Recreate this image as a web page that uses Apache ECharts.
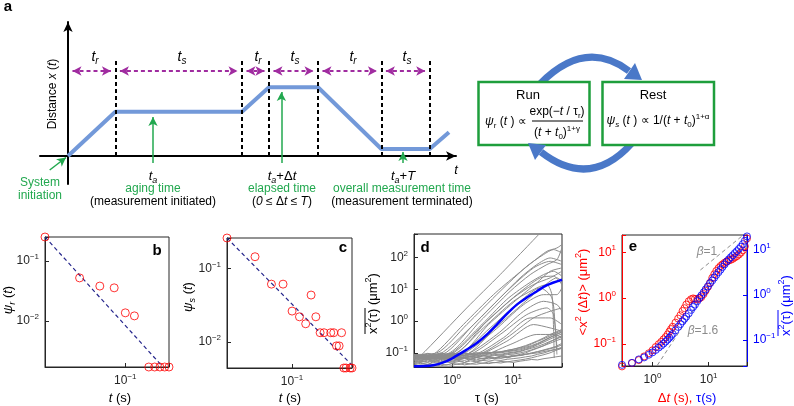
<!DOCTYPE html>
<html><head><meta charset="utf-8">
<script src="https://cdn.jsdelivr.net/npm/echarts@6/dist/echarts.min.js"></script>
<style>html,body{margin:0;padding:0;background:#fff}#c{width:794px;height:406px}</style>
</head><body><div id="c"></div>
<script>
// ================= DATA =================
// Panel a: schematic trajectory (arbitrary time / distance units)
const schemTime = [0, 4.74, 17.4, 20.1, 25.0, 31.34, 36.17, 38.1];
const schemDist = [0, 4.43, 4.43, 6.87, 6.87, 0.7, 0.7, 2.37];
const phaseBounds = [0, 4.74, 17.4, 20.1, 25.0, 31.34, 36.17];
const phaseNames = ['r', 's', 'r', 's', 'r', 's'];
const markerTimes = [8.5, 21.34, 33.5];
const markerTops = [3.9, 6.4, 0.4];

// Panel b: run-time distribution
const bTimes = [0.02, 0.04, 0.06, 0.08, 0.1, 0.12, 0.16, 0.18, 0.2, 0.22, 0.24];
const bPsi = [0.25, 0.052, 0.038, 0.0355, 0.0136, 0.0121, 0.0017, 0.0017, 0.0017, 0.0017, 0.0017];
const bFitTimes = [0.02, 0.207];
const bFitPsi = [0.25, 0.0018];

// Panel c: rest-time distribution
const cTimes = [0.02, 0.04, 0.06, 0.08, 0.1, 0.12, 0.14, 0.16, 0.18, 0.2, 0.22, 0.26, 0.28, 0.3, 0.32, 0.34, 0.36, 0.38, 0.42, 0.44];
const cPsi = [0.259, 0.144, 0.061, 0.061, 0.0262, 0.0219, 0.0176, 0.0433, 0.0219, 0.0133, 0.0133, 0.0133, 0.0133, 0.0088, 0.0088, 0.0133, 0.0044, 0.0044, 0.0044, 0.0044];
const cFitTimes = [0.02, 0.44];
const cFitPsi = [0.259, 0.0048];

// Panel d: individual time-averaged MSD curves ([tau, msd] pairs)
const dRisingTracks = [
  [[0.238,0.062],[0.299,0.078],[1.74,2.6],[6.12,29],[27.7,593]],
  [[0.238,0.089],[0.561,0.1],[1.74,0.78],[6.12,8.7],[16.7,53],[31.4,124],[45.8,178],[62.8,140]],
  [[0.238,0.078],[0.721,0.093],[2.24,0.78],[7.87,8.7],[21.5,47],[40.4,76],[62.8,60]],
  [[0.238,0.084],[0.818,0.093],[2.88,0.99],[8.93,8.7],[19.0,29],[35.6,60],[52,86],[62.8,200]],
  [[0.238,0.073],[0.927,0.089],[3.26,0.78],[10.1,5.4],[21.5,14.1],[40.4,23],[62.8,37]],
  [[0.238,0.080],[1.05,0.089],[3.70,0.99],[11.5,6.8],[27.7,23],[45.8,26],[62.8,14.1]],
  [[0.238,0.069],[1.19,0.084],[4.20,0.61],[13.0,4.2],[27.7,11.1],[43.0,5.4],[48.8,0.61],[52,0.089]],
  [[0.238,0.077],[1.35,0.089],[4.76,0.48],[14.8,3.3],[31.4,6.8],[52,6.8],[62.8,11.1]],
  [[0.238,0.066],[1.53,0.082],[5.40,0.38],[14.8,2.04],[31.4,4.2],[52,3.3],[62.8,2.04]],
  [[0.238,0.073],[1.74,0.084],[6.12,0.38],[16.7,1.60],[35.6,2.6],[45.8,1.6],[52,0.144]],
  [[0.238,0.063],[1.97,0.077],[6.94,0.30],[19.0,1.26],[40.4,1.26],[62.8,0.78]],
  [[0.238,0.069],[2.24,0.078],[7.87,0.233],[21.5,0.78],[40.4,0.61],[62.8,0.48]],
  [[0.238,0.075],[0.636,0.093],[1.97,0.61],[6.12,5.4],[13.0,23],[24.4,60],[40.4,97],[62.8,76]],
  [[0.238,0.065],[2.54,0.073],[8.93,0.183],[24.4,0.38],[45.8,0.38],[62.8,0.30]],
  [[0.238,0.071],[1.05,0.089],[3.26,0.61],[10.1,4.2],[24.4,11.1],[35.6,14.1],[43.0,6.8],[45.8,0.61],[47.0,0.069]],
  [[0.238,0.068],[0.494,0.089],[1.53,0.78],[4.76,6.8],[11.5,29],[21.5,76],[35.6,157],[52,200],[62.8,255]],
  [[0.238,0.078],[2.54,0.089],[7.87,0.30],[21.5,1.26],[40.4,2.04],[62.8,2.6]],
  [[0.238,0.08],[1.27,0.089],[3.95,0.78],[11.5,4.8],[24.4,16],[40.4,37],[62.8,47]],
  [[0.238,0.07],[1.63,0.086],[5.1,0.61],[14.8,3.7],[31.4,12.5],[52,23],[62.8,18]],
  [[0.238,0.074],[0.87,0.089],[2.7,0.61],[7.87,4.8],[16.7,14.1],[31.4,29],[45.8,37],[62.8,26]]
];
const dNoiseTimes = [0.24,0.3,0.4,0.5,0.65,0.8,1,1.3,1.6,2,2.5,3.2,4,5,6.3,8,10,13,16,20,25,32,40,50,63];
const dNoiseTracks = [
  [0.045,0.05,0.042,0.055,0.048,0.06,0.052,0.058,0.05,0.062,0.055,0.06,0.07,0.065,0.075,0.07,0.08,0.09,0.1,0.12,0.14,0.17,0.22,0.28,0.35],
  [0.07,0.065,0.08,0.072,0.085,0.078,0.09,0.082,0.095,0.088,0.092,0.1,0.095,0.11,0.105,0.12,0.13,0.15,0.17,0.2,0.24,0.3,0.38,0.45,0.55],
  [0.038,0.042,0.04,0.044,0.039,0.043,0.041,0.046,0.042,0.045,0.044,0.048,0.046,0.05,0.048,0.053,0.05,0.055,0.058,0.062,0.06,0.066,0.07,0.075,0.08],
  [0.06,0.055,0.065,0.058,0.07,0.062,0.075,0.068,0.072,0.08,0.074,0.085,0.078,0.09,0.085,0.095,0.1,0.11,0.125,0.14,0.16,0.19,0.23,0.27,0.32],
  [0.05,0.058,0.052,0.062,0.056,0.066,0.059,0.064,0.07,0.063,0.072,0.067,0.075,0.07,0.08,0.076,0.085,0.082,0.09,0.1,0.11,0.125,0.14,0.16,0.2],
  [0.085,0.078,0.092,0.084,0.096,0.088,0.1,0.093,0.098,0.09,0.1,0.095,0.105,0.1,0.11,0.12,0.13,0.145,0.16,0.19,0.23,0.28,0.34,0.42,0.5],
  [0.042,0.047,0.044,0.05,0.046,0.052,0.048,0.054,0.05,0.056,0.052,0.058,0.055,0.06,0.058,0.063,0.066,0.07,0.075,0.08,0.09,0.1,0.115,0.13,0.15],
  [0.065,0.07,0.062,0.075,0.068,0.08,0.072,0.086,0.076,0.09,0.08,0.088,0.085,0.095,0.09,0.1,0.105,0.115,0.13,0.15,0.18,0.22,0.27,0.33,0.4],
  [0.055,0.05,0.06,0.053,0.063,0.057,0.067,0.06,0.068,0.062,0.07,0.065,0.072,0.068,0.075,0.072,0.078,0.085,0.09,0.095,0.1,0.11,0.12,0.13,0.14],
  [0.075,0.082,0.07,0.088,0.076,0.09,0.08,0.094,0.085,0.097,0.09,0.1,0.093,0.105,0.1,0.11,0.115,0.125,0.14,0.16,0.19,0.24,0.3,0.38,0.46],
  [0.04,0.037,0.043,0.039,0.045,0.041,0.047,0.043,0.048,0.045,0.05,0.047,0.052,0.049,0.054,0.052,0.056,0.06,0.064,0.07,0.078,0.088,0.1,0.12,0.14],
  [0.09,0.084,0.097,0.088,0.1,0.092,0.099,0.09,0.1,0.094,0.1,0.097,0.103,0.1,0.108,0.115,0.12,0.135,0.15,0.17,0.2,0.25,0.31,0.37,0.45],
  [0.048,0.054,0.05,0.057,0.052,0.059,0.055,0.062,0.058,0.066,0.06,0.068,0.064,0.07,0.067,0.074,0.078,0.083,0.09,0.098,0.108,0.12,0.135,0.15,0.18],
  [0.058,0.064,0.06,0.068,0.063,0.071,0.066,0.074,0.069,0.077,0.072,0.08,0.076,0.083,0.08,0.088,0.092,0.1,0.11,0.125,0.145,0.17,0.2,0.24,0.28]
];
const dMeanTimes = [0.238, 0.49, 0.82, 1.19, 1.74, 2.54, 3.7, 5.4, 7.9, 11.5, 17.0, 24.5, 35.7, 63];
const dMeanValues = [0.038, 0.041, 0.055, 0.082, 0.127, 0.206, 0.376, 0.776, 1.68, 3.3, 5.6, 8.7, 13.5, 20];

// Panel e: ensemble-averaged (red) and time-averaged (blue) MSD
const eTimes = [0.286,0.43,0.57,0.71,0.86,1.0,1.14,1.29,1.43,1.57,1.71,1.86,2.0,2.14,2.29,2.57,2.86,3.14,3.43,3.71,4.0,4.43,4.86,5.29,5.71,6.29,6.86,7.43,8.14,8.86,9.71,10.6,11.6,12.6,13.7,15.0,16.3,17.7,19.3,21.0,22.9,24.9,27.0,29.3,31.9,34.6,37.6,40.7,44.3,48.3];
const eEnsembleMSD = [0.032,0.038,0.044,0.053,0.062,0.072,0.085,0.098,0.11,0.125,0.14,0.16,0.185,0.21,0.235,0.29,0.355,0.42,0.52,0.6,0.72,0.85,0.94,0.98,0.96,0.93,0.98,1.05,1.22,1.45,1.75,2.15,2.75,3.3,3.9,4.5,5.0,5.45,5.9,6.3,6.6,6.85,7.2,7.7,8.2,8.9,9.8,11.0,13.5,20.0];
const eTimeAvgMSD = [0.028,0.031,0.037,0.041,0.047,0.053,0.060,0.068,0.075,0.083,0.092,0.102,0.112,0.123,0.136,0.164,0.195,0.226,0.26,0.295,0.33,0.39,0.465,0.54,0.61,0.73,0.86,0.98,1.14,1.33,1.55,1.82,2.1,2.42,2.78,3.2,3.65,4.2,4.8,5.5,6.2,6.9,7.6,8.5,9.4,10.5,11.8,13.5,16.0,20.0];
const eBeta1Times = [7.13, 39.4];
const eBeta1Values = [4.09, 22.6];
const eBeta16Times = [1.22, 12];
const eBeta16Values = [0.034, 2.47];

// ================= CHART =================
const FONT = '"Liberation Sans", Arial, Helvetica, sans-serif';
const GREEN = '#22a84f', PURPLE = '#a02ca0', SCHEM_BLUE = '#7399d9', ARC_BLUE = '#4a78c8';

function R(size, color) {
  const base = {fontSize: size, lineHeight: size + 4, color: color, fill: color, fontFamily: FONT};
  const small = Math.round(size * 0.68);
  return {
    n: Object.assign({}, base),
    i: Object.assign({}, base, {fontStyle: 'italic'}),
    sub: {fontSize: small, lineHeight: Math.round(size * 0.7), color: color, fill: color, fontFamily: FONT, verticalAlign: 'bottom'},
    subi: {fontSize: small, lineHeight: Math.round(size * 0.7), color: color, fill: color, fontFamily: FONT, verticalAlign: 'bottom', fontStyle: 'italic'},
    sup: {fontSize: small, lineHeight: Math.round(size * 0.7), color: color, fill: color, fontFamily: FONT, verticalAlign: 'top'}
  };
}
function logLabel(v) {
  const l = Math.log10(v), e = Math.round(l);
  if (Math.abs(l - e) > 1e-4) return '';
  return '{b|10}{s|' + (e < 0 ? '\u2212' + (-e) : String(e)) + '}';
}
function logRich(color) {
  return {b: {fontSize: 12, lineHeight: 16, color: color, fontFamily: FONT},
          s: {fontSize: 8, lineHeight: 9, verticalAlign: 'top', color: color, fontFamily: FONT}};
}
function logAx(gi, min, max, color, extra) {
  return Object.assign({
    type: 'log', logBase: 10, gridIndex: gi, min: min, max: max, z: 3,
    axisLine: {show: true, onZero: false, lineStyle: {color: color, width: 1}},
    axisTick: {show: true, inside: true, length: 4, lineStyle: {color: color, width: 1}},
    minorTick: {show: false},
    axisLabel: {formatter: logLabel, margin: 6, rich: logRich(color), color: color},
    splitLine: {show: false}
  }, extra || {});
}
const border = {show: true, borderColor: '#262626', borderWidth: 1, backgroundColor: 'transparent', outerBoundsMode: 'none', containLabel: false};
const grids = [
  {left: 40, top: 22, width: 416, height: 162, show: false, outerBoundsMode: 'none', containLabel: false},
  Object.assign({left: 45, top: 237, width: 124, height: 130}, border),
  Object.assign({left: 227, top: 238, width: 125, height: 130}, border),
  Object.assign({left: 414, top: 234, width: 148, height: 133}, border),
  Object.assign({left: 622, top: 235, width: 125, height: 131}, border)
];
const schemAxisCommon = {
  axisLine: {show: true, onZero: true, symbol: ['none', 'arrow'], symbolSize: [7, 10], lineStyle: {color: '#000', width: 2}},
  axisTick: {show: false}, axisLabel: {show: false}, splitLine: {show: false}
};
const xAxes = [
  Object.assign({type: 'value', gridIndex: 0, min: -2.8, max: 38.8}, schemAxisCommon),
  logAx(1, 0.02, 0.24, '#262626'),
  logAx(2, 0.02, 0.44, '#262626'),
  logAx(3, 0.238, 63, '#262626'),
  logAx(4, 0.286, 48.3, '#262626')
];
const yAxes = [
  Object.assign({type: 'value', gridIndex: 0, min: -2.8, max: 13.4}, schemAxisCommon),
  logAx(1, 0.0017, 0.25, '#262626'),
  logAx(2, 0.0044, 0.259, '#262626'),
  logAx(3, 0.036, 550, '#262626'),
  logAx(4, 0.0327, 23.8, '#ff0000', {position: 'left'}),
  logAx(4, 0.0264, 21.5, '#0000ff', {position: 'right'})
];

const series = [];
// ---- panel a ----
series.push({type: 'line', xAxisIndex: 0, yAxisIndex: 0, data: schemTime.map((t, i) => [t, schemDist[i]]),
  symbol: 'none', lineStyle: {color: SCHEM_BLUE, width: 4}, z: 3, silent: true});
series.push({type: 'line', xAxisIndex: 0, yAxisIndex: 0, data: [], symbol: 'none', silent: true,
  markLine: {silent: true, symbol: 'none', label: {show: false}, animation: false,
    lineStyle: {color: '#000', width: 2, type: [4, 3]},
    data: phaseBounds.slice(1).map(b => [{coord: [b, 0]}, {coord: [b, 9.6]}])}});
series.push({type: 'line', xAxisIndex: 0, yAxisIndex: 0, data: [], symbol: 'none', silent: true,
  markLine: {silent: true, symbol: ['arrow', 'arrow'], symbolSize: [7, 9], label: {show: false}, animation: false,
    lineStyle: {color: PURPLE, width: 2, type: [4, 3]}, itemStyle: {color: PURPLE},
    data: phaseNames.map((p, i) => [{coord: [phaseBounds[i] + 0.45, 8.5]}, {coord: [phaseBounds[i + 1] - 0.45, 8.5]}])}});
series.push({type: 'line', xAxisIndex: 0, yAxisIndex: 0, data: [], symbol: 'none', silent: true,
  markLine: {silent: true, symbol: ['none', 'arrow'], symbolSize: [7, 9], label: {show: false}, animation: false,
    lineStyle: {color: GREEN, width: 1.5, type: 'solid'}, itemStyle: {color: GREEN},
    data: markerTimes.map((t, i) => [{coord: [t, -0.7]}, {coord: [t, markerTops[i]]}])
      .concat([[{coord: [-1.83, -1.4]}, {coord: [-0.2, -0.15]}]])}});

// ---- panel b ----
series.push({type: 'line', xAxisIndex: 1, yAxisIndex: 1, data: bFitTimes.map((t, i) => [t, bFitPsi[i]]),
  symbol: 'none', lineStyle: {color: '#26268c', width: 1.2, type: [4, 3]}, silent: true});
series.push({type: 'scatter', xAxisIndex: 1, yAxisIndex: 1, data: bTimes.map((t, i) => [t, bPsi[i]]), clip: false,
  symbol: 'circle', symbolSize: 8, itemStyle: {color: 'rgba(0,0,0,0)', borderColor: '#ff0000', borderWidth: 1}, z: 4, silent: true});
// ---- panel c ----
series.push({type: 'line', xAxisIndex: 2, yAxisIndex: 2, data: cFitTimes.map((t, i) => [t, cFitPsi[i]]),
  symbol: 'none', lineStyle: {color: '#26268c', width: 1.2, type: [4, 3]}, silent: true});
series.push({type: 'scatter', xAxisIndex: 2, yAxisIndex: 2, data: cTimes.map((t, i) => [t, cPsi[i]]), clip: false,
  symbol: 'circle', symbolSize: 8, itemStyle: {color: 'rgba(0,0,0,0)', borderColor: '#ff0000', borderWidth: 1}, z: 4, silent: true});
// ---- panel d ----
dNoiseTracks.forEach(vals => series.push({type: 'line', xAxisIndex: 3, yAxisIndex: 3,
  data: dNoiseTimes.map((t, i) => [t, vals[i]]), symbol: 'none', silent: true,
  lineStyle: {color: '#8c8c8c', width: 1}}));
dRisingTracks.forEach(tr => series.push({type: 'line', xAxisIndex: 3, yAxisIndex: 3, data: tr, symbol: 'none',
  smooth: 0.25, silent: true, lineStyle: {color: '#8c8c8c', width: 1}}));
series.push({type: 'line', xAxisIndex: 3, yAxisIndex: 3, data: dMeanTimes.map((t, i) => [t, dMeanValues[i]]),
  symbol: 'none', smooth: 0.3, silent: true, z: 5, lineStyle: {color: '#0000ff', width: 2.5}});
// ---- panel e ----
series.push({type: 'line', xAxisIndex: 4, yAxisIndex: 4, data: eBeta1Times.map((t, i) => [t, eBeta1Values[i]]),
  symbol: 'none', silent: true, lineStyle: {color: '#8c8c8c', width: 1, type: [4, 3]}});
series.push({type: 'line', xAxisIndex: 4, yAxisIndex: 4, data: eBeta16Times.map((t, i) => [t, eBeta16Values[i]]),
  symbol: 'none', silent: true, lineStyle: {color: '#8c8c8c', width: 1, type: [4, 3]}});
series.push({type: 'scatter', xAxisIndex: 4, yAxisIndex: 4, data: eTimes.map((t, i) => [t, eEnsembleMSD[i]]), clip: false,
  symbol: 'circle', symbolSize: 7, itemStyle: {color: 'rgba(0,0,0,0)', borderColor: '#ff0000', borderWidth: 1}, z: 4, silent: true});
series.push({type: 'scatter', xAxisIndex: 4, yAxisIndex: 5, data: eTimes.map((t, i) => [t, eTimeAvgMSD[i]]), clip: false,
  symbol: 'circle', symbolSize: 7, itemStyle: {color: 'rgba(0,0,0,0)', borderColor: '#0000ff', borderWidth: 1}, z: 5, silent: true});

// ---- text & decorations ----
function T(x, y, text, size, color, extra) {
  return Object.assign({type: 'text', x: x, y: y, silent: true, z: 50,
    style: {text: text, align: 'center', verticalAlign: 'middle', fontSize: size, fontFamily: FONT, fill: color, rich: R(size, color)}}, extra || {});
}
const g = [];
g.push(T(8, 7, 'a', 15, '#000', {style: {text: 'a', align: 'center', verticalAlign: 'middle', font: 'bold 15px ' + FONT, fill: '#000'}}));
g.push(T(53, 94, '{n|Distance }{i|x}{n| (}{i|t}{n|)}', 12, '#000', {rotation: Math.PI / 2}));
g.push(T(456, 170, '{i|t}', 13, '#000'));
const phaseLabelX = [95, 182, 258, 295, 353, 407];
phaseNames.forEach((p, i) => g.push(T(phaseLabelX[i], 57, '{i|t}{subi|' + p + '}', 14, '#000')));
g.push(T(40, 183, 'System', 12, GREEN));
g.push(T(40, 196, 'initiation', 12, GREEN));
g.push(T(153, 176, '{i|t}{subi|a}', 13, '#000'));
g.push(T(153, 189, 'aging time', 12, GREEN));
g.push(T(153, 202, '(measurement initiated)', 12, '#000'));
g.push(T(282, 176, '{i|t}{subi|a}{n|+\u0394}{i|t}', 13, '#000'));
g.push(T(282, 189, 'elapsed time', 12, GREEN));
g.push(T(282, 202, '{n|(}{i|0 \u2264 }{n|\u0394}{i|t \u2264 T}{n|)}', 12, '#000'));
g.push(T(403, 176, '{i|t}{subi|a}{n|+}{i|T}', 13, '#000'));
g.push(T(402, 189, 'overall measurement time', 12, GREEN));
g.push(T(402, 202, '(measurement terminated)', 12, '#000'));

// Run / Rest diagram
g.push({type: 'bezierCurve', silent: true, z: 10, shape: {x1: 540, y1: 84, cpx1: 585, cpy1: 38, x2: 629, y2: 71},
  style: {stroke: ARC_BLUE, lineWidth: 7, fill: null}});
g.push({type: 'bezierCurve', silent: true, z: 10, shape: {x1: 632, y1: 143, cpx1: 590, cpy1: 190, x2: 541, y2: 152},
  style: {stroke: ARC_BLUE, lineWidth: 7, fill: null}});
g.push({type: 'rect', silent: true, z: 12, shape: {x: 478.5, y: 82, width: 111, height: 63}, style: {fill: '#fff', stroke: '#1e9e3c', lineWidth: 2.5}});
g.push({type: 'rect', silent: true, z: 12, shape: {x: 602.5, y: 82, width: 111.5, height: 63}, style: {fill: '#fff', stroke: '#1e9e3c', lineWidth: 2.5}});
g.push({type: 'polygon', silent: true, z: 14, shape: {points: [[642, 80], [624, 79], [635, 63]]}, style: {fill: ARC_BLUE}});
g.push({type: 'polygon', silent: true, z: 14, shape: {points: [[528, 143], [546, 145], [535, 160]]}, style: {fill: ARC_BLUE}});
g.push(T(528, 95, 'Run', 13, '#000'));
g.push(T(485, 122, '{i|\u03c8}{sub|r}{n| (}{i|t}{n| ) \u221d}', 12, '#000', {style: {text: '{i|\u03c8}{sub|r}{n| (}{i|t}{n| ) \u221d}', align: 'left', verticalAlign: 'middle', rich: R(12, '#000')}}));
g.push(T(557, 112, '{n|exp(\u2212}{i|t}{n| / \u03c4}{sub|r}{n|)}', 12, '#000'));
g.push({type: 'line', silent: true, z: 50, shape: {x1: 532, y1: 121, x2: 583, y2: 121}, style: {stroke: '#000', lineWidth: 1}});
g.push(T(557, 133, '{n|(}{i|t}{n| + }{i|t}{sub|0}{n|)}{sup|1+\u03b3}', 12, '#000'));
g.push(T(653, 95, 'Rest', 13, '#000'));
g.push(T(658, 121, '{i|\u03c8}{subi|s}{n| (}{i|t}{n| ) \u221d 1/(}{i|t}{n| + }{i|t}{sub|0}{n|)}{sup|1+\u03b1}', 12, '#000'));

// panel letters
[['b', 157, 251], ['c', 343, 248], ['d', 425, 248], ['e', 633, 247]].forEach(p =>
  g.push({type: 'text', x: p[1], y: p[2], silent: true, z: 50, style: {text: p[0], align: 'center', verticalAlign: 'middle', font: 'bold 15px ' + FONT, fill: '#000'}}));
// axis titles
g.push(T(120, 398, '{i|t}{n| (s)}', 13, '#000'));
g.push(T(290, 398, '{i|t}{n| (s)}', 13, '#000'));
g.push(T(487, 398, '{n|\u03c4 (s)}', 13, '#000'));
g.push({type: 'text', x: 687, y: 398, silent: true, z: 50, style: {
  text: '{r|\u0394}{ri|t}{r| (s), }{b|\u03c4(s)}', align: 'center', verticalAlign: 'middle',
  rich: {r: {fontSize: 13, fill: '#ff0000', color: '#ff0000', fontFamily: FONT},
         ri: {fontSize: 13, fill: '#ff0000', color: '#ff0000', fontFamily: FONT, fontStyle: 'italic'},
         b: {fontSize: 13, fill: '#0000ff', color: '#0000ff', fontFamily: FONT}}}});
g.push(T(8, 300, '{i|\u03c8}{subi|r}{n| (}{i|t}{n|)}', 13, '#000', {rotation: Math.PI / 2}));
g.push(T(188, 297, '{i|\u03c8}{subi|s}{n| (}{i|t}{n|)}', 13, '#000', {rotation: Math.PI / 2}));
function overlined(x, y, color) {
  return {type: 'group', x: x, y: y, rotation: Math.PI / 2, silent: true, z: 50, children: [
    {type: 'text', x: 0, y: 0, style: {text: '{n|x}{sup|2}{n|(\u03c4) (\u03bcm}{sup|2}{n|)}', align: 'left', verticalAlign: 'middle', rich: R(13, color)}},
    {type: 'line', shape: {x1: 0, y1: -8, x2: 26, y2: -8}, style: {stroke: color, lineWidth: 1}}
  ]};
}
g.push(overlined(373, 334, '#000'));
g.push(overlined(786, 336, '#0000ff'));
g.push(T(583, 292, '{n|<x}{sup|2}{n| (\u0394}{i|t}{n|)> (\u03bcm}{sup|2}{n|)}', 13, '#ff0000', {rotation: Math.PI / 2}));
g.push(T(707, 252, '{i|\u03b2}{n|=1}', 12, '#8c8c8c'));
g.push(T(703, 331, '{i|\u03b2}{n|=1.6}', 12, '#8c8c8c'));

const chart = echarts.init(document.getElementById('c'), null, {renderer: 'canvas', width: 794, height: 406});
chart.setOption({
  animation: false,
  backgroundColor: '#fff',
  textStyle: {fontFamily: FONT},
  grid: grids, xAxis: xAxes, yAxis: yAxes, series: series, graphic: g
});
</script>
</body></html>
